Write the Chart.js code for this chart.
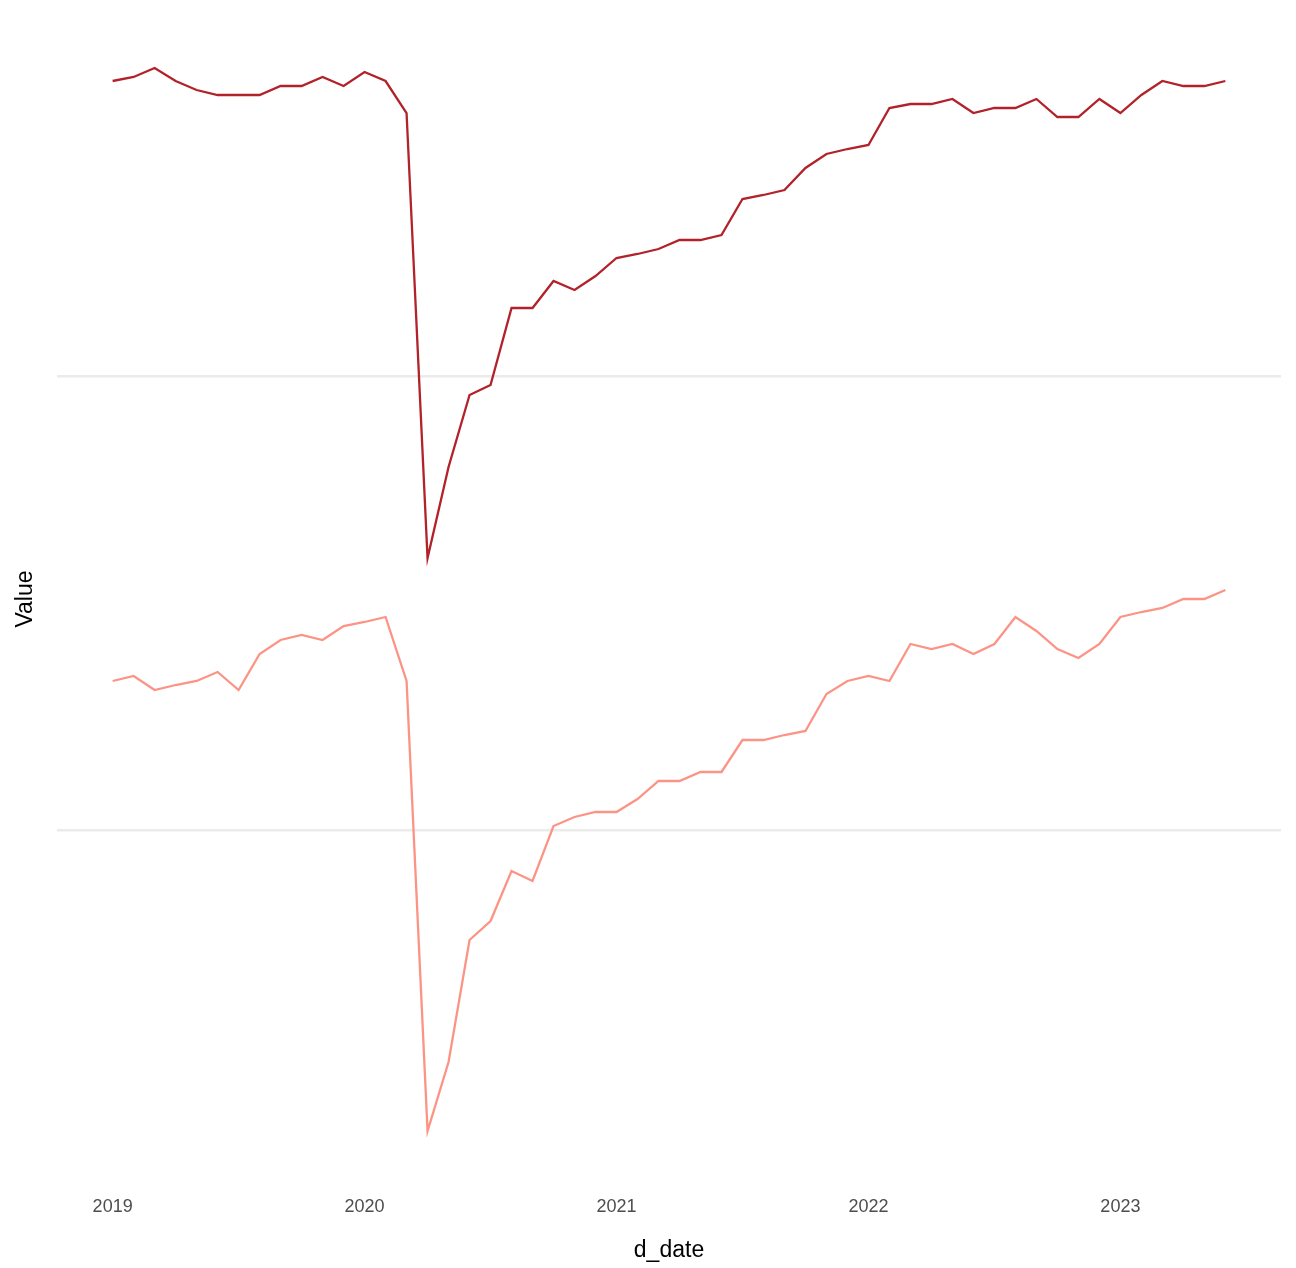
<!DOCTYPE html>
<html>
<head>
<meta charset="utf-8">
<script src="https://cdn.jsdelivr.net/npm/chart.js@4/dist/chart.umd.min.js"></script>
<style>
  html, body { margin: 0; padding: 0; background: #fff; }
  #wrap { width: 1296px; height: 1268px; }
</style>
</head>
<body>
<div id="wrap"><canvas id="chart"></canvas></div>
<script>
// Monthly index, 0 = Jan 2019 ... 53 = Jun 2023
const months = Array.from({ length: 54 }, (_, i) => i);
const yearTicks = [0, 12, 24, 36, 48];
const yearLabels = ['2019', '2020', '2021', '2022', '2023'];

// values (axis runs downward, as drawn)
const seriesDark = [81, 77, 68, 81, 90, 95, 95, 95, 86, 86, 77, 86,
  72, 81, 113, 558, 467, 395, 385, 308, 308, 281, 290, 276,
  258, 254, 249, 240, 240, 235, 199, 195, 190, 168, 154, 149,
  145, 108, 104, 104, 99, 113, 108, 108, 99, 117, 117, 99,
  113, 95, 81, 86, 86, 81];
const seriesLight = [681, 676, 690, 685, 681, 672, 690, 654, 640, 635, 640, 626,
  622, 617, 681, 1131, 1062, 940, 921, 871, 881, 826, 817, 812,
  812, 799, 781, 781, 772, 772, 740, 740, 735, 731, 694, 681,
  676, 681, 644, 649, 644, 654, 644, 617, 631, 649, 658, 644,
  617, 612, 608, 599, 599, 590];
const gridValues = [376, 830];

const toPoints = arr => arr.map((v, i) => ({ x: months[i], y: v }));

new Chart(document.getElementById('chart').getContext('2d'), {
  type: 'line',
  data: {
    datasets: [
      { data: toPoints(seriesDark), borderColor: '#B2222A', borderWidth: 2.3, pointRadius: 0, tension: 0 },
      { data: toPoints(seriesLight), borderColor: '#FC9486', borderWidth: 2.3, pointRadius: 0, tension: 0 }
    ]
  },
  options: {
    responsive: true,
    maintainAspectRatio: false,
    animation: false,
    layout: { padding: { top: 14, right: 15, left: 0, bottom: 0 } },
    plugins: { legend: { display: false }, tooltip: { enabled: false } },
    scales: {
      x: {
        type: 'linear',
        min: -2.65,
        max: 55.65,
        afterBuildTicks: axis => { axis.ticks = yearTicks.map(v => ({ value: v })); },
        afterFit: axis => { axis.height = 84; },
        grid: { display: false },
        border: { display: false },
        ticks: {
          autoSkip: false,
          maxRotation: 0,
          color: '#4d4d4d',
          font: { family: 'Liberation Sans, Arial', size: 18 },
          padding: 4,
          callback: v => yearLabels[yearTicks.indexOf(v)]
        },
        title: {
          display: true,
          text: 'd_date',
          color: '#000',
          font: { family: 'Liberation Sans, Arial', size: 23 },
          padding: { top: 0 }
        }
      },
      y: {
        type: 'linear',
        reverse: true,
        min: 14,
        max: 1184,
        afterBuildTicks: axis => { axis.ticks = gridValues.map(v => ({ value: v })); },
        afterFit: axis => { axis.width = 57; },
        grid: { color: '#EBEBEB', lineWidth: 2.5, drawTicks: false },
        border: { display: false },
        ticks: { display: false },
        title: {
          display: true,
          text: 'Value',
          color: '#000',
          font: { family: 'Liberation Sans, Arial', size: 23 },
          padding: { top: 12, bottom: 10 }
        }
      }
    }
  }
});
</script>
</body>
</html>
